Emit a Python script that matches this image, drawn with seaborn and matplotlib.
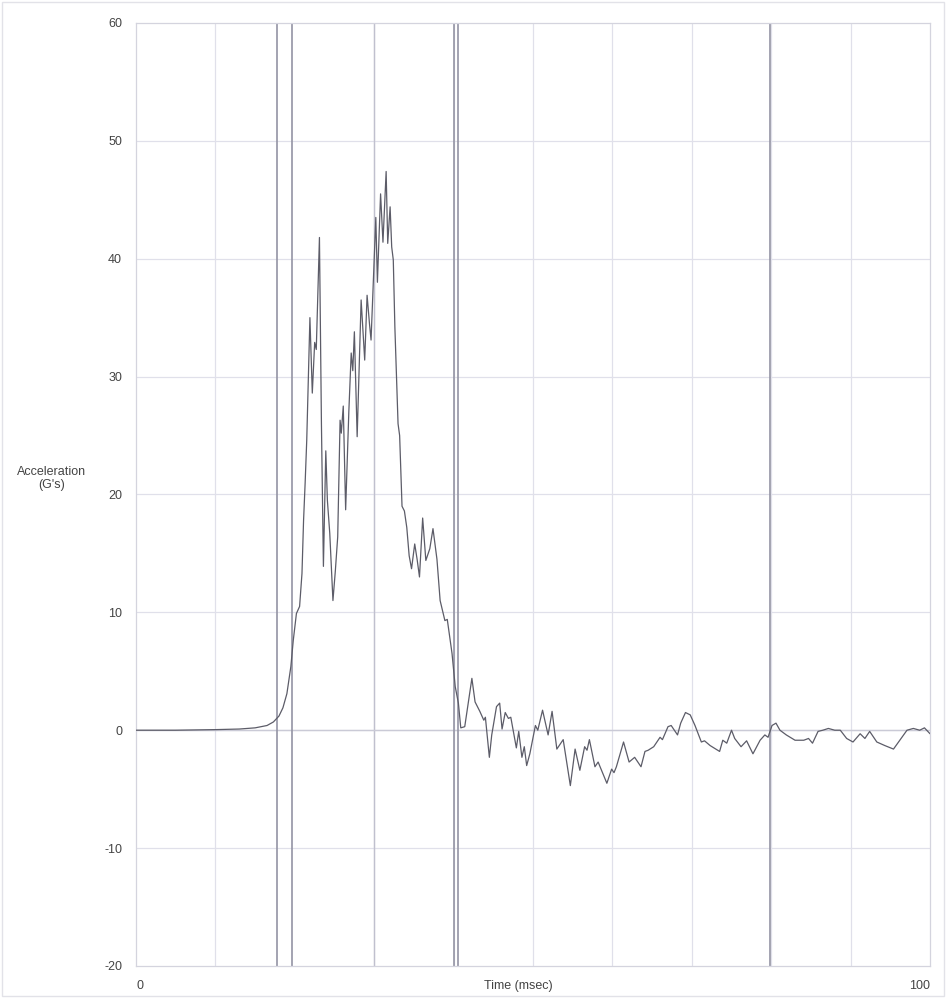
import matplotlib
matplotlib.use("Agg")
import matplotlib.pyplot as plt
from matplotlib.patches import Rectangle
import seaborn as sns
import pandas as pd


# Acceleration trace (msec, G's)
time_ms = [
    0, 5, 10, 13, 15, 16.5, 17.3, 18.0, 18.5, 19.0, 19.5, 19.8, 20.2, 20.6,
    20.9, 21.1, 21.3, 21.5, 21.9, 22.2, 22.5, 22.7, 23.1, 23.35, 23.6, 23.9,
    24.1, 24.4, 24.8, 25.1, 25.4, 25.7, 25.85, 26.1, 26.4, 26.8, 27.1, 27.3,
    27.5, 27.85, 28.35, 28.8, 29.1, 29.4, 29.6, 30.2, 30.4, 30.8, 31.1, 31.5,
    31.7, 32.0, 32.2, 32.4, 32.6, 32.8, 33.0, 33.2, 33.5, 33.8, 34.1, 34.4,
    34.7, 35.1, 35.4, 35.7, 36.1, 36.5, 37.0, 37.4, 37.9, 38.3, 38.9, 39.2,
    39.8, 40.2, 40.6, 40.9, 41.4, 42.3, 42.7, 43.3, 43.8, 44.0, 44.5, 44.8,
    45.4, 45.8, 46.1, 46.5, 46.9, 47.2, 47.9, 48.2, 48.6, 48.9, 49.2, 49.6,
    50.3, 50.6, 51.2, 51.9, 52.4, 53.0, 53.8, 54.7, 55.3, 55.9, 56.5, 56.8,
    57.1, 57.8, 58.2, 59.3, 59.9, 60.2, 60.5, 61.4, 62.1, 62.8, 63.6, 64.1,
    64.5, 65.2, 66.0, 66.3, 67.0, 67.4, 68.2, 68.6, 69.2, 69.8, 70.4, 71.2,
    71.6, 72.3, 73.5, 73.9, 74.4, 75.0, 75.4, 76.2, 76.9, 77.7, 78.6, 79.2,
    79.6, 80.1, 80.6, 81.1, 81.9, 83.0, 84.1, 84.7, 85.2, 85.9, 86.5, 87.2,
    88.0, 88.7, 89.5, 90.3, 91.2, 91.8, 92.4, 93.3, 94.3, 95.4, 96.2, 97.1,
    97.9, 98.7, 99.3, 100.0,
]
accel_g = [
    0, 0, 0.05, 0.1, 0.2, 0.4, 0.7, 1.2, 1.9, 3.1, 5.4, 7.6, 9.9, 10.5,
    13.3, 17.8, 21.0, 24.6, 35.0, 28.6, 32.9, 32.3, 41.8, 26.0, 13.9, 23.7,
    19.5, 16.7, 11.0, 13.5, 16.4, 26.3, 25.2, 27.5, 18.7, 27.0, 32.0, 30.5,
    33.8, 24.9, 36.5, 31.4, 36.9, 34.5, 33.1, 43.5, 38.0, 45.5, 41.4, 47.4,
    41.3, 44.4, 41.0, 39.9, 34.2, 30.0, 26.0, 25.0, 19.0, 18.6, 17.2, 14.8,
    13.7, 15.8, 14.5, 13.0, 18.0, 14.4, 15.4, 17.1, 14.5, 11.0, 9.3, 9.4,
    6.5, 3.7, 2.3, 0.2, 0.3, 4.4, 2.4, 1.6, 0.85, 1.1, -2.3, -0.4,
    2.0, 2.3, 0.1, 1.5, 1.0, 1.1, -1.5, -0.1, -2.3, -1.4, -3.0, -2.0,
    0.4, 0.0, 1.7, -0.4, 1.6, -1.6, -0.8, -4.7, -1.6, -3.4, -1.4, -1.7,
    -0.8, -3.1, -2.7, -4.5, -3.3, -3.6, -3.1, -1.0, -2.7, -2.3, -3.1, -1.8,
    -1.7, -1.4, -0.6, -0.8, 0.3, 0.4, -0.4, 0.6, 1.5, 1.3, 0.4, -1.0,
    -0.9, -1.3, -1.8, -0.85, -1.1, 0.0, -0.7, -1.4, -0.9, -2.0, -0.85, -0.4,
    -0.6, 0.4, 0.6, 0.0, -0.4, -0.85, -0.85, -0.7, -1.1, -0.1, 0.0, 0.15,
    0.0, 0.0, -0.7, -1.0, -0.3, -0.7, -0.1, -1.0, -1.3, -1.6, -0.85, 0.0,
    0.15, 0.0, 0.2, -0.3,
]

# Grid and marker lines
grid_x = [10, 30, 40, 50, 60, 70, 80, 90]
grid_y = [-10, 0, 10, 20, 30, 40, 50]
marker_x = [17.8, 19.6, 40.0, 40.6, 79.8]
y_ticks = [-20, -10, 0, 10, 20, 30, 40, 50, 60]


def plot_trace() -> plt.Figure:
    """Draw the acceleration vs time trace."""
    sns.set_style("white")
    plt.rcParams['font.family'] = ['Liberation Sans', 'DejaVu Sans']

    fig = plt.figure(figsize=(9.46, 9.98), dpi=100)
    ax = fig.add_axes([0.1438, 0.0321, 0.8393, 0.9449])

    # light grid
    for x in grid_x:
        ax.axvline(x, color='#e0e0ea', lw=0.9, zorder=0)
    for y in grid_y:
        ax.axhline(y, color='#e0e0ea', lw=0.9, zorder=0)
    ax.axvline(30, color='#c0c0ce', lw=1.0, zorder=0)
    ax.axhline(0, color='#cacad6', lw=1.0, zorder=0)

    # event markers
    for x in marker_x:
        ax.axvline(x, color='#9494a4', lw=1.2, zorder=1)

    df = pd.DataFrame({'t': time_ms, 'g': accel_g})
    sns.lineplot(data=df, x='t', y='g', ax=ax, color='#5c5c68',
                 linewidth=0.9, sort=False, estimator=None, zorder=3)

    ax.set_xlim(0, 100)
    ax.set_ylim(-20, 60)

    ax.set_yticks(y_ticks)
    ax.set_yticklabels([str(v) for v in y_ticks], fontsize=9, color='#444444')
    ax.set_xticks([0, 100])
    ax.set_xticklabels(['0', '100'], fontsize=9, color='#444444')
    ax.get_xticklabels()[0].set_horizontalalignment('left')
    ax.get_xticklabels()[1].set_horizontalalignment('right')
    ax.tick_params(axis='both', length=0)
    ax.tick_params(axis='y', pad=10)
    ax.tick_params(axis='x', pad=10)

    ax.set_xlabel('Time (msec)', fontsize=9, color='#444444')
    ax.xaxis.set_label_coords(0.482, -0.015)
    ax.xaxis.label.set_verticalalignment('top')

    ax.set_ylabel("Acceleration\n(G's)", fontsize=9, color='#444444',
                  rotation=0, ha='center', va='center', linespacing=1.1)
    ax.yaxis.set_label_coords(-0.106, 0.517)

    for spine in ax.spines.values():
        spine.set_color('#d4d4de')
        spine.set_linewidth(0.9)

    # faint border round the whole picture
    fig.patches.append(Rectangle((0.002, 0.002), 0.996, 0.996,
                                 transform=fig.transFigure, fill=False,
                                 edgecolor='#e2e2e8', lw=1.0))
    return fig


fig = plot_trace()
fig.savefig('out.png', dpi=100)
plt.close(fig)
